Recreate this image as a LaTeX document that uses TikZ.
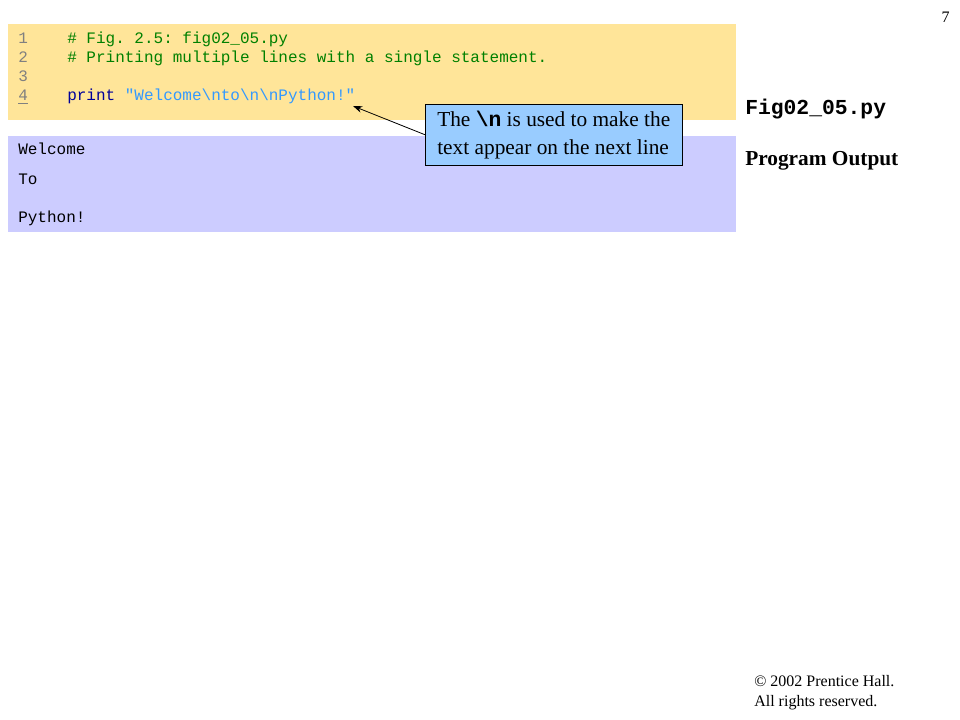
\documentclass[tikz,border=0pt]{standalone}
\usepackage{fontspec}
\setmainfont{Liberation Serif}
\setmonofont{Liberation Mono}
\usetikzlibrary{arrows.meta}
\definecolor{codebg}{HTML}{FFE599}
\definecolor{outbg}{HTML}{CCCCFF}
\definecolor{notebg}{HTML}{99CCFF}
\definecolor{lineno}{HTML}{808080}
\definecolor{comment}{HTML}{008000}
\definecolor{keyword}{HTML}{000099}
\definecolor{string}{HTML}{3399FF}
\newcommand{\fillbox}[5]{%
\fill[#1] (#2,#3) rectangle (#4,#5);
}
\newcommand{\codeline}[4]{%
\node[codetext,text=lineno] (no#1) at (18,#2) {#3};
\node[codetext] (code#1) at (67,#2) {#4};
}
\newcommand{\outline}[3]{%
\node[codetext] (out#1) at (18,#2) {#3};
}

\begin{document}
\begin{tikzpicture}[x=0.75pt,y=-0.75pt,
  codetext/.style={anchor=base west,inner sep=0pt,font=\fontsize{12}{14}\ttfamily},
  sidetext/.style={anchor=base west,inner sep=0pt,font=\fontsize{16}{19}\bfseries}]

\useasboundingbox (0,0) rectangle (960,720);

\fillbox{codebg}{8}{24}{736}{120}
\fillbox{outbg}{8}{136}{736}{232}

\codeline{1}{44}{1}{\textcolor{comment}{\# Fig. 2.5: fig02\_05.py}}
\codeline{2}{63}{2}{\textcolor{comment}{\# Printing multiple lines with a single statement.}}
\codeline{3}{82}{3}{}
\codeline{4}{101}{\underline{4}}{\textcolor{keyword}{print} \textcolor{string}{"Welcome\textbackslash nto\textbackslash n\textbackslash nPython!"}}

\outline{1}{155}{Welcome}
\outline{2}{185}{To}
\outline{3}{223}{Python!}

\node[draw=black,fill=notebg,align=left,anchor=north west,inner sep=0pt,
  minimum width=192.75pt,minimum height=45.75pt,font=\fontsize{16}{21}\selectfont]
  (note) at (425,104) {The \textbf{\ttfamily\textbackslash n} is used to make the\\text appear on the next line};
\coordinate (tip) at (353,106);
\draw[-{Stealth[length=7pt,width=5pt]},black,line width=0.6pt] (note.west) -- (tip);

\node[sidetext,font=\fontsize{16}{19}\bfseries\ttfamily] (file) at (745,115) {Fig02\_05.py};
\node[sidetext] (output) at (745,166) {Program Output};

\node[anchor=base east,inner sep=0pt,font=\fontsize{12}{14}\selectfont] (page) at (950,23) {7};
\node[anchor=base west,inner sep=0pt,align=left,font=\fontsize{12}{14.3}\selectfont] (copy) at (754,706)
  {© 2002 Prentice Hall.\\All rights reserved.};

\end{tikzpicture}
\end{document}
